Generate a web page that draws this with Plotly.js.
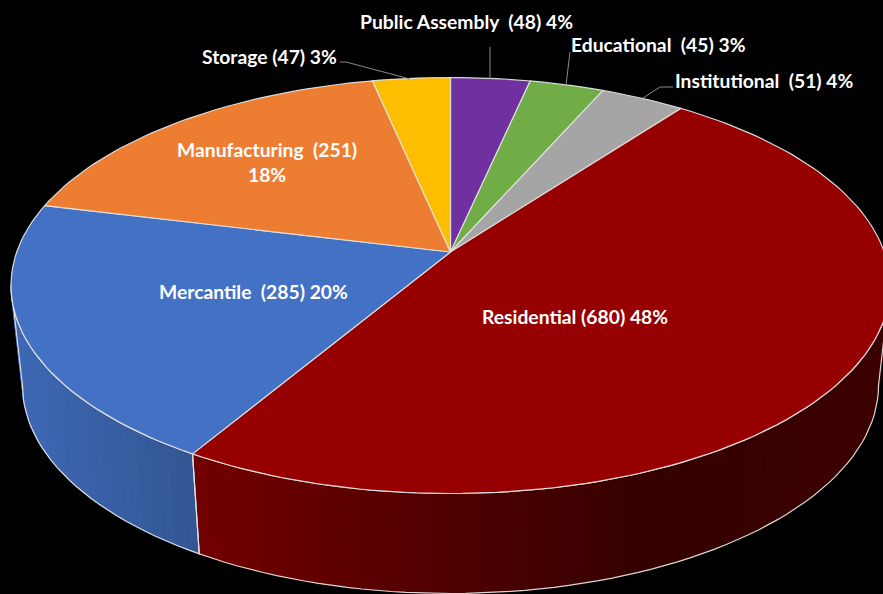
<!DOCTYPE html>
<html>
<head>
<meta charset="utf-8">
<script src="https://cdn.plot.ly/plotly-3.0.1.min.js"></script>
<style>html,body{margin:0;padding:0;background:#000}#chart{width:883px;height:594px}</style>
</head>
<body>
<div id="chart"></div>
<script>
// Data, clockwise from 12 o'clock
const categories = ['Public Assembly', 'Educational', 'Institutional', 'Residential', 'Mercantile', 'Manufacturing', 'Storage'];
const counts = [48, 45, 51, 680, 285, 251, 47];
const percentLabels = ['4%', '3%', '4%', '48%', '20%', '18%', '3%'];
const sliceColors = ['#7030A0', '#70AD47', '#A5A5A5', '#960000', '#4371C3', '#EC7D31', '#FDBE00'];

// Label layout (same order as categories)
const labelSeparators = ['  ', '  ', '  ', ' ', '  ', '  ', ' '];
const labelBreaks = [' ', ' ', ' ', ' ', ' ', '<br>', ' '];
const labelX = [359, 570, 674, 481, 158, 267, 201];
const labelY = [21, 44, 80, 316, 291, 161.5, 56];
const labelAnchor = ['left', 'left', 'left', 'left', 'left', 'center', 'left'];

// Projection of the tilted disc
const topCx = 450.5, topCy = 285.5, topRx = 439.5, topRy = 208;
const lowCx = 450.5, lowCy = 385.5, lowRx = 428, lowRy = 208;
const perspective = 0.85;

// Side-wall shading (brightness by horizontal position)
const shadeX = [0, 20, 200, 450, 650, 883];
const shadeV = [0.93, 0.92, 0.75, 0.53, 0.35, 0.40];

const total = counts.reduce((a, b) => a + b, 0);
const rad = d => d * Math.PI / 180;
function warp(theta) { // true angle (deg) -> ellipse parameter (deg)
  const t = Math.tan(rad(theta) / 2);
  if (Math.abs(theta % 360) < 1e-9) return theta;
  if (Math.abs(theta - 180) < 1e-9) return 180;
  let phi = 2 * Math.atan(perspective * t) * 180 / Math.PI;
  if (phi < 0) phi += 360;
  return phi;
}
const topPt = p => [topCx + topRx * Math.sin(rad(p)), topCy - topRy * Math.cos(rad(p))];
const lowPt = p => [lowCx + lowRx * Math.sin(rad(p)), lowCy - lowRy * Math.cos(rad(p))];
const apex = [topCx, topCy - topRy * (1 - perspective * perspective) / (1 + perspective * perspective)];

function shade(x) {
  for (let i = 0; i < shadeX.length - 1; i++) {
    if (x <= shadeX[i + 1]) {
      const f = (x - shadeX[i]) / (shadeX[i + 1] - shadeX[i]);
      return shadeV[i] + f * (shadeV[i + 1] - shadeV[i]);
    }
  }
  return shadeV[shadeV.length - 1];
}
function scaled(hex, v) {
  const n = parseInt(hex.slice(1), 16);
  return 'rgb(' + [(n >> 16) & 255, (n >> 8) & 255, n & 255].map(c => Math.round(c * v)).join(',') + ')';
}

const edge = 'rgba(226,226,226,0.95)';
const wallFill = [], wallEdge = [], topFaces = [];
let cum = 0;
categories.forEach((name, i) => {
  const a = warp(cum / total * 360);
  cum += counts[i];
  const b = cum === total ? 360 : warp(cum / total * 360);
  const hover = name + ': ' + counts[i] + ' (' + percentLabels[i] + ')';

  // visible part of the side wall
  const s = Math.max(a, 90), e = Math.min(b, 270);
  if (e > s) {
    const n = Math.ceil((e - s) / 2);
    const ps = [];
    for (let k = 0; k <= n; k++) ps.push(s + (e - s) * k / n);
    for (let k = 0; k < n; k++) {
      const q = [topPt(ps[k]), topPt(ps[k + 1]), lowPt(ps[k + 1]), lowPt(ps[k]), topPt(ps[k])];
      const col = scaled(sliceColors[i], shade((q[0][0] + q[1][0]) / 2));
      wallFill.push({
        type: 'scatter', mode: 'lines', x: q.map(v => v[0]), y: q.map(v => v[1]),
        fill: 'toself', fillcolor: col, line: {color: col, width: 1},
        hoverinfo: 'text', text: hover, showlegend: false
      });
    }
    const o = [];
    ps.forEach(p => o.push(topPt(p)));
    ps.slice().reverse().forEach(p => o.push(lowPt(p)));
    o.push(topPt(s));
    wallEdge.push({
      type: 'scatter', mode: 'lines', x: o.map(v => v[0]), y: o.map(v => v[1]),
      line: {color: edge, width: 1.2}, hoverinfo: 'skip', showlegend: false
    });
  }

  // top face
  const pts = [apex];
  const m = Math.max(4, Math.ceil((b - a) / 1.5));
  for (let k = 0; k <= m; k++) pts.push(topPt(a + (b - a) * k / m));
  pts.push(apex);
  topFaces.push({
    type: 'scatter', mode: 'lines', name: name, x: pts.map(v => v[0]), y: pts.map(v => v[1]),
    fill: 'toself', fillcolor: sliceColors[i], line: {color: edge, width: 1.2},
    hoverinfo: 'text', text: hover, showlegend: false
  });
});

const annotations = categories.map((name, i) => ({
  x: labelX[i], y: labelY[i], xref: 'x', yref: 'y', xanchor: labelAnchor[i], yanchor: 'middle', align: 'center',
  showarrow: false, borderpad: 0,
  text: name + labelSeparators[i] + '(' + counts[i] + ')' + labelBreaks[i] + percentLabels[i],
  font: {family: 'Lato, sans-serif', size: 19.3, color: '#FFFFFF', weight: 700}
}));

const leader = d => ({type: 'path', xref: 'x', yref: 'y', path: d, line: {color: '#8c8c8c', width: 1}, layer: 'above'});

const layout = {
  width: 883, height: 594,
  margin: {l: 0, r: 0, t: 0, b: 0},
  paper_bgcolor: '#000000', plot_bgcolor: '#000000',
  xaxis: {range: [0, 883], visible: false, fixedrange: true},
  yaxis: {range: [594, 0], visible: false, fixedrange: true},
  showlegend: false,
  annotations: annotations,
  shapes: [
    leader('M340 62 L346 62 L410 79'),
    leader('M490 47 L490 79'),
    leader('M570 52 L566 85'),
    leader('M673 87 L660 87 L643 98')
  ]
};

Plotly.newPlot('chart', wallFill.concat(wallEdge, topFaces), layout, {displayModeBar: false, staticPlot: false});
</script>
</body>
</html>
